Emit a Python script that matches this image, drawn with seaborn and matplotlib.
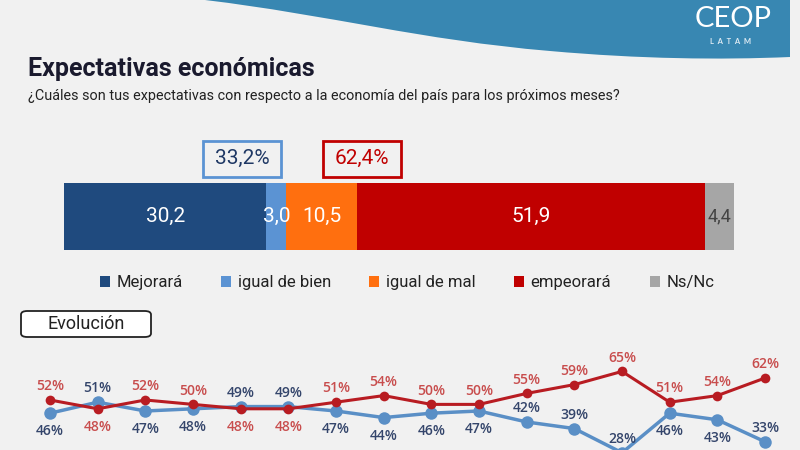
import numpy as np
import matplotlib.pyplot as plt
import seaborn as sns
import pandas as pd
from matplotlib.patches import Rectangle, FancyBboxPatch, PathPatch, Patch
from matplotlib.path import Path

# Stacked bar (current survey)
categories = ['Mejorará', 'igual de bien', 'igual de mal', 'empeorará', 'Ns/Nc']
shares = [30.2, 3.0, 10.5, 51.9, 4.4]
bar_colors = ['#1f4a7e', '#5b93d3', '#ff6f0f', '#c00000', '#a6a6a6']

# Evolution series
waves = list(range(16))
positive = [46, 51, 47, 48, 49, 49, 47, 44, 46, 47, 42, 39, 28, 46, 43, 33]
negative = [52, 48, 52, 50, 48, 48, 51, 54, 50, 50, 55, 59, 65, 51, 54, 62]

# label placement (style): True -> above the point
pos_above = [False, True, False, False, True, True, False, False,
             False, False, True, True, True, False, False, True]
neg_above = [True, False, True, True, False, False, True, True,
             True, True, True, True, True, True, True, True]

BG = '#f1f1f1'
W, H = 800, 450

sns.set_theme(style='white')
plt.rcParams['font.family'] = ['Roboto', 'DejaVu Sans']


def fx(x):
    return x / W


def fy(y):
    return 1 - y / H


fig = plt.figure(figsize=(8, 4.5), dpi=100)
fig.patch.set_facecolor(BG)

# header wave (decoration)
wave_pts = [(205, 0), (330, 15), (420, 40), (550, 51),
            (640, 59), (720, 60), (790, 57), (790, 0), (205, 0)]
codes = [Path.MOVETO, Path.CURVE4, Path.CURVE4, Path.CURVE4,
         Path.CURVE4, Path.CURVE4, Path.CURVE4, Path.LINETO, Path.CLOSEPOLY]
wave = PathPatch(Path([(fx(x), fy(y)) for x, y in wave_pts], codes),
                 transform=fig.transFigure, facecolor='#3887b2',
                 edgecolor='none', zorder=0)
fig.patches.append(wave)
fig.text(fx(733), fy(19), 'CEOP', color='white', fontsize=21, ha='center',
         va='center', family=['Lato', 'DejaVu Sans'])
fig.text(fx(731), fy(42), 'L  A  T  A  M', color='#dceaf3', fontsize=5.5,
         ha='center', va='center', family=['Lato', 'DejaVu Sans'], weight='bold')

# titles
fig.text(fx(28), fy(69), 'Expectativas económicas', fontsize=18, weight='bold',
         color='#1a1a2e', ha='left', va='center')
fig.text(fx(28), fy(96), '¿Cuáles son tus expectativas con respecto a la economía del país para los próximos meses?',
         fontsize=10.4, color='#222222', ha='left', va='center')

# stacked bar
ax_bar = fig.add_axes([fx(64), fy(250), fx(734) - fx(64), (250 - 183) / H])
left = 0
for cat, val, col in zip(categories, shares, bar_colors):
    ax_bar.barh([0], [val], left=left, color=col, height=1.0, edgecolor='none')
    txt_col = '#444444' if cat == 'Ns/Nc' else 'white'
    ax_bar.text(left + val / 2, 0, f'{val:.1f}'.replace('.', ','), ha='center',
                va='center', color=txt_col, fontsize=13 if cat == 'Ns/Nc' else 15)
    left += val
ax_bar.set_xlim(0, 100)
ax_bar.set_ylim(-0.5, 0.5)
ax_bar.axis('off')

# summary boxes
good = shares[0] + shares[1]
bad = shares[2] + shares[3]
for cx, val, edge, tcol in [(242, good, '#5b93d3', '#1f3864'), (362, bad, '#c00000', '#c00000')]:
    fig.patches.append(Rectangle((fx(cx - 39), fy(177)), 78 / W, 36 / H,
                                 transform=fig.transFigure, facecolor=BG,
                                 edgecolor=edge, linewidth=2))
    fig.text(fx(cx), fy(158), f'{val:.1f}%'.replace('.', ','), color=tcol,
             fontsize=15, ha='center', va='center')

# legend
handles = [Patch(facecolor=c, edgecolor='none') for c in bar_colors]
fig.legend(handles, categories, loc='center', bbox_to_anchor=(fx(407), fy(283)),
           ncol=5, frameon=False, fontsize=12, handlelength=0.6, handleheight=0.6,
           handletextpad=0.4, columnspacing=2.3, labelcolor='#222222')

# Evolución tag
fig.patches.append(FancyBboxPatch((fx(21), fy(337)), 130 / W, 26 / H,
                                  boxstyle='round,pad=0,rounding_size=0.008',
                                  transform=fig.transFigure, facecolor='white',
                                  edgecolor='#222222', linewidth=1.3))
fig.text(fx(86), fy(324), 'Evolución', fontsize=13, color='#222222',
         ha='center', va='center')

# evolution lines
ax_ln = fig.add_axes([0, fy(460), 1, 120 / H])
ax_ln.set_facecolor('none')
df = pd.DataFrame({'wave': waves, 'pos': positive, 'neg': negative})
sns.lineplot(data=df, x='wave', y='pos', ax=ax_ln, color='#5a8fc6', linewidth=2.5,
             marker='o', markersize=9, markeredgewidth=0)
sns.lineplot(data=df, x='wave', y='neg', ax=ax_ln, color='#b81c22', linewidth=2.2,
             marker='o', markersize=7, markeredgewidth=0)
ax_ln.set_xlim(-1.049, 15.734)
ax_ln.set_ylim(24.7, 79.3)
ax_ln.axis('off')

for x, p, n, pa, na in zip(waves, positive, negative, pos_above, neg_above):
    ax_ln.annotate(f'{p}%', (x, p), xytext=(0, 10 if pa else -13), textcoords='offset points',
                   ha='center', va='center', fontsize=10, color='#34456b',
                   family=['Open Sans', 'DejaVu Sans'], weight='semibold')
    ax_ln.annotate(f'{n}%', (x, n), xytext=(0, 10 if na else -13), textcoords='offset points',
                   ha='center', va='center', fontsize=10, color='#c84d4d',
                   family=['Open Sans', 'DejaVu Sans'], weight='semibold')

fig.savefig('out.png', dpi=100, facecolor=BG)
